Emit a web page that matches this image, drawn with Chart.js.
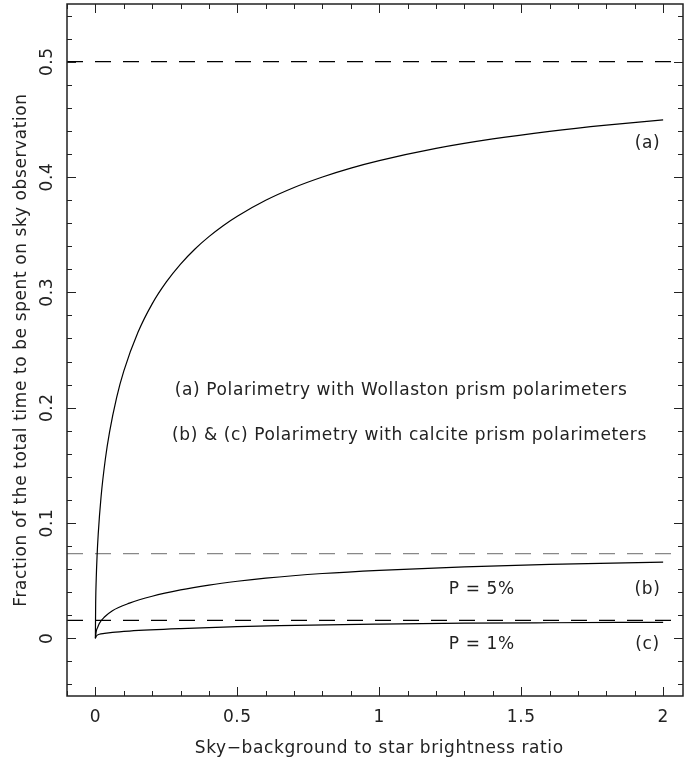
<!DOCTYPE html>
<html>
<head>
	<script type="text/javascript" src="https://cdn.jsdelivr.net/npm/chart.js@4/dist/chart.umd.min.js"></script>
	<title>Sky fraction</title>
	<style>
		body { margin: 0; background: #fff; }
		#box { width: 685px; height: 767px; }
	</style>
</head>
<body>
	<div id="box">
		<canvas id="chart" width="685" height="767"></canvas>
	</div>
	<script>
		// values
		var ratioA = [0, 0.001, 0.003, 0.006, 0.01, 0.02, 0.035, 0.05, 0.075, 0.1, 0.15, 0.2, 0.25, 0.3, 0.35, 0.4, 0.45, 0.5, 0.6, 0.7, 0.8, 0.9, 1.0, 1.2, 1.4, 1.6, 1.8, 2.0];
		var fracA = [0, 0.0306, 0.0519, 0.0717, 0.0905, 0.1228, 0.1553, 0.1790, 0.2090, 0.2317, 0.2653, 0.2900, 0.3090, 0.3245, 0.3374, 0.3483, 0.3578, 0.3660, 0.3798, 0.3909, 0.4000, 0.4077, 0.4142, 0.4248, 0.4330, 0.4396, 0.4450, 0.4495];

		var ratioB = [0, 0.003, 0.008, 0.014, 0.032, 0.06, 0.12, 0.2, 0.3, 0.4, 0.5, 0.6, 0.8, 1.0, 1.3, 1.6, 2.0];
		var fracB = [0, 0.006, 0.0095, 0.013, 0.0185, 0.0240, 0.0305, 0.0365, 0.0420, 0.0462, 0.0495, 0.0522, 0.0562, 0.0590, 0.0620, 0.0642, 0.0660];

		var ratioC = [0, 0.003, 0.014, 0.032, 0.06, 0.12, 0.3, 0.5, 0.65, 1.0, 1.3, 1.6, 2.0];
		var fracC = [0, 0.0018, 0.0035, 0.0043, 0.0052, 0.0063, 0.0084, 0.0101, 0.0111, 0.0124, 0.0131, 0.0135, 0.0139];

		var refLevels = [0.5, 0.0735, 0.0155];
		var refColors = ['#000', '#888', '#000'];

		var xTicks = [0, 0.5, 1, 1.5, 2];
		var xTickLabels = ['0', '0.5', '1', '1.5', '2'];
		var yTicks = [0, 0.1, 0.2, 0.3, 0.4, 0.5];
		var yTickLabels = ['0', '0.1', '0.2', '0.3', '0.4', '0.5'];

		var xMin = -0.1, xMax = 2.07, yMin = -0.05, yMax = 0.55;
		var fontName = '"DejaVu Sans", sans-serif';

		function pts(xs, ys) {
			var out = [];
			for (var i = 0; i < xs.length; i++) out.push({x: xs[i], y: ys[i]});
			return out;
		}

		var _datasets = [
			{ data: pts(ratioA, fracA) },
			{ data: pts(ratioB, fracB) },
			{ data: pts(ratioC, fracC) }
		];
		_datasets.forEach(function (d) {
			d.borderColor = '#000';
			d.borderWidth = 1.2;
			d.pointRadius = 0;
			d.fill = false;
			d.cubicInterpolationMode = 'monotone';
		});
		for (var k = 0; k < refLevels.length; k++) {
			_datasets.push({
				data: [{x: xMin, y: refLevels[k]}, {x: xMax, y: refLevels[k]}],
				borderColor: refColors[k],
				borderWidth: 1.2,
				borderDash: [16, 12],
				pointRadius: 0,
				fill: false
			});
		}

		// frame, inward ticks, labels and notes
		var framePlugin = {
			id: 'frame',
			afterDraw: function (chart) {
				var c = chart.ctx, a = chart.chartArea;
				var xs = chart.scales.x, ys = chart.scales.y;
				c.save();
				c.strokeStyle = '#222';
				c.lineWidth = 1.5;
				c.strokeRect(a.left, a.top, a.right - a.left, a.bottom - a.top);
				c.lineWidth = 1;
				var v, p, len;
				for (var i = -1; i <= 20; i++) {
					v = i / 10;
					if (v < xMin || v > xMax) continue;
					p = Math.round(xs.getPixelForValue(v)) + 0.5;
					len = (i % 5 === 0) ? 9 : 5;
					c.beginPath();
					c.moveTo(p, a.bottom); c.lineTo(p, a.bottom - len);
					c.moveTo(p, a.top); c.lineTo(p, a.top + len);
					c.stroke();
				}
				for (var j = -2; j <= 27; j++) {
					v = j / 50;
					if (v < yMin || v > yMax) continue;
					p = Math.round(ys.getPixelForValue(v)) + 0.5;
					len = (j % 5 === 0) ? 9 : 5;
					c.beginPath();
					c.moveTo(a.left, p); c.lineTo(a.left + len, p);
					c.moveTo(a.right, p); c.lineTo(a.right - len, p);
					c.stroke();
				}
				c.fillStyle = '#222';
				c.font = '17px ' + fontName;
				c.letterSpacing = '0.6px';
				c.textAlign = 'center';
				c.textBaseline = 'middle';
				for (i = 0; i < xTicks.length; i++) {
					c.fillText(xTickLabels[i], xs.getPixelForValue(xTicks[i]), a.bottom + 22);
				}
				c.fillText('Sky\u2212background to star brightness ratio', xs.getPixelForValue(1), a.bottom + 53);
				for (i = 0; i < yTicks.length; i++) {
					c.save();
					c.translate(a.left - 19, ys.getPixelForValue(yTicks[i]));
					c.rotate(-Math.PI / 2);
					c.fillText(yTickLabels[i], 0, 0);
					c.restore();
				}
				c.save();
				c.translate(a.left - 45, ys.getPixelForValue(0.25));
				c.rotate(-Math.PI / 2);
				c.fillText('Fraction of the total time to be spent on sky observation', 0, 0);
				c.restore();

				c.textAlign = 'left';
				c.fillText('(a) Polarimetry with Wollaston prism polarimeters', xs.getPixelForValue(0.28), ys.getPixelForValue(0.215));
				c.fillText('(b) & (c) Polarimetry with calcite prism polarimeters', xs.getPixelForValue(0.27), ys.getPixelForValue(0.176));
				c.fillText('P = 5%', xs.getPixelForValue(1.245), ys.getPixelForValue(0.0425));
				c.fillText('P = 1%', xs.getPixelForValue(1.245), ys.getPixelForValue(-0.0055));
				c.textAlign = 'center';
				c.fillText('(a)', xs.getPixelForValue(1.945), ys.getPixelForValue(0.429));
				c.fillText('(b)', xs.getPixelForValue(1.945), ys.getPixelForValue(0.0425));
				c.fillText('(c)', xs.getPixelForValue(1.945), ys.getPixelForValue(-0.0055));
				c.restore();
			}
		};

		var canvas = document.getElementById('chart').getContext('2d');
		window.line = new Chart(canvas, {
			type: 'line',
			data: { datasets: _datasets },
			plugins: [framePlugin],
			options: {
				responsive: false,
				animation: false,
				layout: { padding: { left: 67, right: 2, top: 4, bottom: 71 } },
				plugins: { legend: { display: false }, tooltip: { enabled: false } },
				scales: {
					x: { type: 'linear', min: xMin, max: xMax, display: false },
					y: { type: 'linear', min: yMin, max: yMax, display: false }
				}
			}
		});
	</script>
</body>
</html>
